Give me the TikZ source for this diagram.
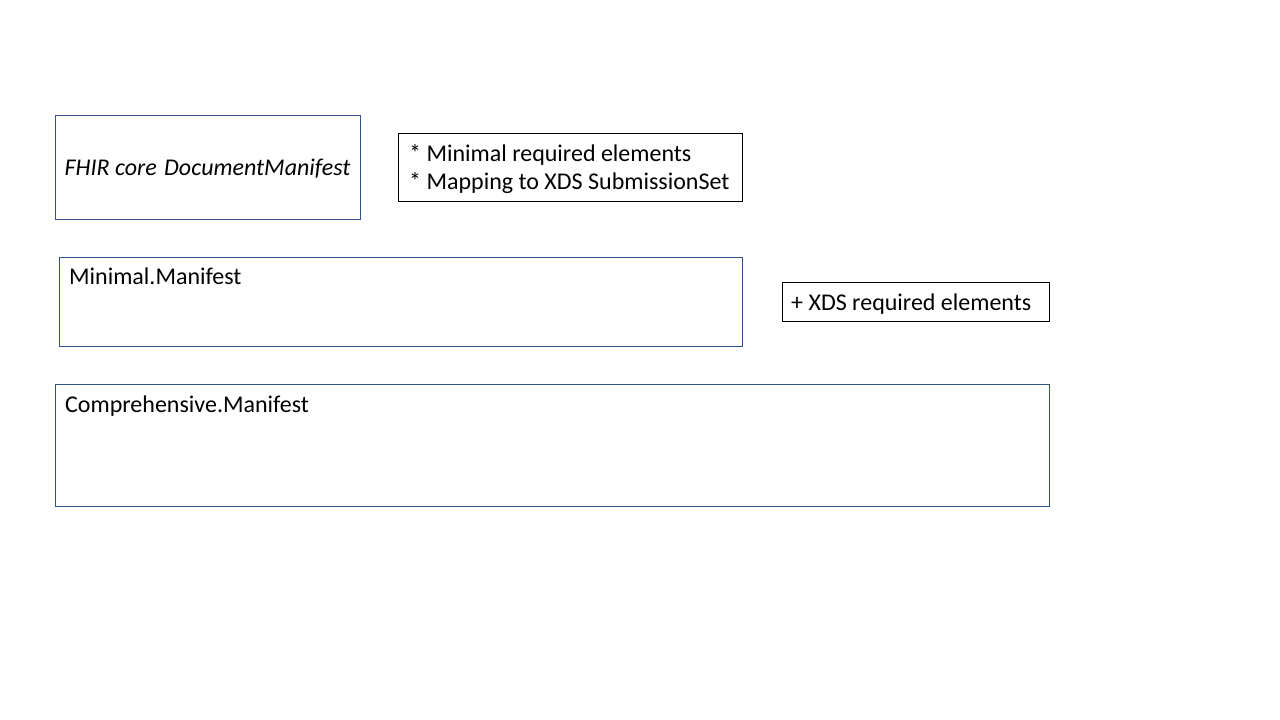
\documentclass[tikz,border=0pt]{standalone}
\usepackage{fontspec}
\setmainfont{Carlito}
\definecolor{boxblue}{HTML}{2F528F}
\begin{document}
\begin{tikzpicture}[x=1pt,y=-1pt,
  bluebox/.style={draw=boxblue,line width=0.9pt,inner sep=0pt,anchor=north west},
  blackbox/.style={draw=black,line width=0.9pt,inner sep=0pt,anchor=north west},
  txt/.style={font=\fontsize{24}{29}\selectfont,inner sep=0pt,anchor=base west}]
\useasboundingbox (0,0) rectangle (1280,720);
\node[bluebox,minimum width=305pt,minimum height=104pt] (fhir) at (55,115) {};
\node[font=\fontsize{24}{29}\selectfont\itshape,inner sep=0pt,anchor=base] (fhirt) at (207.5,175) {FHIR core\kern2pt\ DocumentManifest};
\node[blackbox,minimum width=344pt,minimum height=68pt] (notes) at (398,133) {};
\node[txt] (n1) at (409,161.5) {* Minimal required elements};
\node[txt] (n2) at (409,189.5) {* Mapping to XDS SubmissionSet};
\node[bluebox,minimum width=683pt,minimum height=89pt] (mini) at (59,257) {};
\node[txt] (minit) at (69,284.5) {Minimal.Manifest};
\node[blackbox,minimum width=267pt,minimum height=39pt] (xds) at (782,282) {};
\node[txt] (xdst) at (791,310.5) {+ XDS required elements};
\node[bluebox,minimum width=994pt,minimum height=122pt] (comp) at (55,384) {};
\node[txt] (compt) at (65,412) {Comprehensive.Manifest};
\end{tikzpicture}
\end{document}
